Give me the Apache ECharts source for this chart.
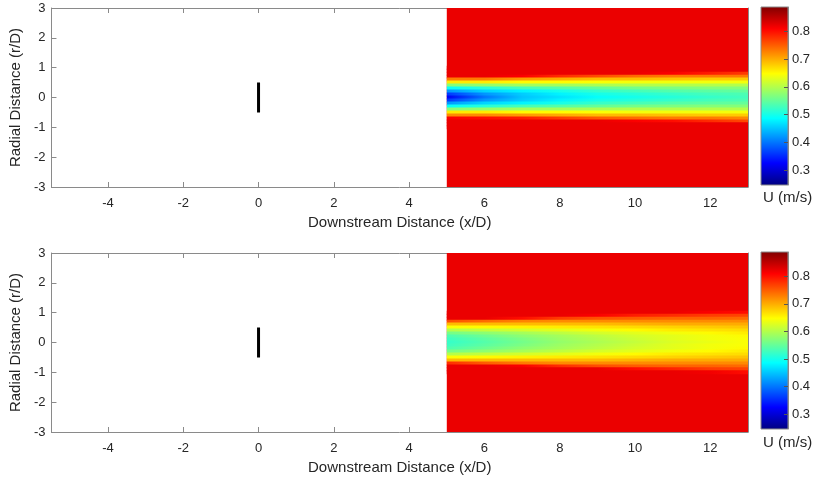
<!DOCTYPE html>
<html>
<head>
<meta charset="utf-8">
<script src="https://cdn.jsdelivr.net/npm/echarts@6/dist/echarts.min.js"></script>
<style>
  html, body { margin: 0; padding: 0; background: #fff; }
  #chart { width: 814px; height: 482px; }
</style>
</head>
<body>
<div id="chart"></div>
<script>
  const xStations = [5, 6, 7, 8, 9, 10, 11, 12, 13];
  const rRows = [1.0, 0.9, 0.8, 0.7, 0.6, 0.5, 0.4, 0.3, 0.2, 0.1, 0.0,
                 -0.1, -0.2, -0.3, -0.4, -0.5, -0.6, -0.7, -0.8, -0.9, -1.0];
  const rStep = 0.1;
  const domainX = [5, 13];
  const domainR = [-3, 3];
  const uFree = 0.82;

  const uTop = [
    [0.82, 0.82, 0.82, 0.82, 0.82, 0.82, 0.82, 0.82, 0.82],
    [0.82, 0.82, 0.82, 0.82, 0.82, 0.82, 0.82, 0.82, 0.82],
    [0.82, 0.82, 0.82, 0.82, 0.82, 0.82, 0.81, 0.79, 0.77],
    [0.82, 0.82, 0.81, 0.78, 0.76, 0.74, 0.73, 0.73, 0.73],
    [0.73, 0.73, 0.71, 0.70, 0.69, 0.69, 0.685, 0.68, 0.68],
    [0.66, 0.66, 0.65, 0.65, 0.645, 0.64, 0.64, 0.64, 0.64],
    [0.57, 0.58, 0.59, 0.59, 0.595, 0.60, 0.60, 0.60, 0.60],
    [0.49, 0.51, 0.53, 0.54, 0.55, 0.56, 0.565, 0.57, 0.57],
    [0.42, 0.46, 0.48, 0.50, 0.52, 0.53, 0.54, 0.545, 0.55],
    [0.36, 0.42, 0.455, 0.48, 0.50, 0.51, 0.52, 0.53, 0.535],
    [0.32, 0.40, 0.45, 0.47, 0.49, 0.50, 0.51, 0.52, 0.53],
    [0.36, 0.42, 0.455, 0.48, 0.50, 0.51, 0.52, 0.53, 0.535],
    [0.42, 0.46, 0.48, 0.50, 0.52, 0.53, 0.54, 0.545, 0.55],
    [0.49, 0.51, 0.53, 0.54, 0.55, 0.56, 0.565, 0.57, 0.57],
    [0.57, 0.58, 0.59, 0.59, 0.595, 0.60, 0.60, 0.60, 0.60],
    [0.66, 0.66, 0.65, 0.65, 0.645, 0.64, 0.64, 0.64, 0.64],
    [0.72, 0.72, 0.71, 0.70, 0.69, 0.69, 0.685, 0.68, 0.68],
    [0.81, 0.80, 0.79, 0.77, 0.75, 0.74, 0.73, 0.73, 0.72],
    [0.82, 0.82, 0.82, 0.82, 0.82, 0.81, 0.80, 0.78, 0.76],
    [0.82, 0.82, 0.82, 0.82, 0.82, 0.82, 0.82, 0.82, 0.82],
    [0.82, 0.82, 0.82, 0.82, 0.82, 0.82, 0.82, 0.82, 0.82]
  ];

  const uBottom = [
    [0.82, 0.82, 0.82, 0.82, 0.82, 0.82, 0.82, 0.81, 0.80],
    [0.82, 0.82, 0.82, 0.82, 0.81, 0.79, 0.78, 0.77, 0.765],
    [0.82, 0.82, 0.80, 0.77, 0.755, 0.75, 0.745, 0.745, 0.74],
    [0.76, 0.74, 0.725, 0.72, 0.72, 0.72, 0.72, 0.72, 0.72],
    [0.69, 0.69, 0.69, 0.69, 0.69, 0.695, 0.70, 0.70, 0.70],
    [0.645, 0.65, 0.655, 0.66, 0.665, 0.67, 0.675, 0.68, 0.685],
    [0.60, 0.61, 0.62, 0.63, 0.64, 0.65, 0.66, 0.665, 0.67],
    [0.56, 0.575, 0.59, 0.605, 0.62, 0.63, 0.64, 0.65, 0.66],
    [0.535, 0.555, 0.575, 0.59, 0.605, 0.62, 0.63, 0.64, 0.65],
    [0.525, 0.545, 0.565, 0.585, 0.60, 0.615, 0.63, 0.64, 0.645],
    [0.52, 0.54, 0.56, 0.58, 0.595, 0.61, 0.625, 0.635, 0.645],
    [0.525, 0.545, 0.565, 0.585, 0.60, 0.615, 0.63, 0.64, 0.645],
    [0.535, 0.555, 0.575, 0.59, 0.605, 0.62, 0.63, 0.64, 0.65],
    [0.56, 0.575, 0.59, 0.605, 0.62, 0.63, 0.64, 0.65, 0.66],
    [0.60, 0.61, 0.62, 0.63, 0.64, 0.65, 0.66, 0.665, 0.67],
    [0.645, 0.65, 0.655, 0.66, 0.665, 0.67, 0.675, 0.68, 0.685],
    [0.69, 0.69, 0.69, 0.69, 0.69, 0.695, 0.70, 0.70, 0.70],
    [0.78, 0.75, 0.73, 0.72, 0.72, 0.72, 0.72, 0.72, 0.72],
    [0.82, 0.82, 0.81, 0.78, 0.76, 0.75, 0.745, 0.745, 0.74],
    [0.82, 0.82, 0.82, 0.82, 0.82, 0.80, 0.785, 0.77, 0.765],
    [0.82, 0.82, 0.82, 0.82, 0.82, 0.82, 0.82, 0.815, 0.80]
  ];

  // turbine rotor disc (x/D, r/D)
  const turbineX = [0, 0];
  const turbineR = [-0.5, 0.5];

  // colour bar limits
  const uMin = 0.246;
  const uMax = 0.888;

  const jetStops = ['#00007f', '#0000ff', '#007fff', '#00ffff', '#7fff7f',
                    '#ffff00', '#ff7f00', '#ff0000', '#7f0000'];

  function hexRgb(h) {
    return [parseInt(h.substr(1, 2), 16), parseInt(h.substr(3, 2), 16), parseInt(h.substr(5, 2), 16)];
  }
  const jetRgb = jetStops.map(hexRgb);

  function jet(u) {
    let t = (u - uMin) / (uMax - uMin);
    t = Math.max(0, Math.min(1, t));
    const pos = t * (jetRgb.length - 1);
    const i = Math.min(Math.floor(pos), jetRgb.length - 2);
    const f = pos - i;
    const a = jetRgb[i], b = jetRgb[i + 1];
    const c = [0, 1, 2].map(k => Math.round(a[k] + (b[k] - a[k]) * f));
    return 'rgb(' + c.join(',') + ')';
  }

  const font = "'Liberation Sans', Arial, Helvetica, sans-serif";
  const txt = '#262626';
  const boxColor = '#8a8a8a';

  let chart = echarts.init(document.getElementById('chart'), null, { renderer: 'canvas' });

  const grids = [
    { left: 49, top: 8, width: 699, height: 179 },
    { left: 49, top: 253, width: 699, height: 179 },
    { left: 761, top: 7, width: 27, height: 178 },
    { left: 761, top: 252, width: 27, height: 177 }
  ];

  function mainX(gi, top) {
    return {
      type: 'value', gridIndex: gi, min: -5.5, max: 13, splitNumber: 9,
      position: top ? 'top' : 'bottom',
      name: top ? '' : 'Downstream Distance (x/D)',
      nameLocation: 'middle', nameGap: 28,
      nameTextStyle: { fontFamily: font, fontSize: 15, color: txt },
      axisLine: { onZero: false, lineStyle: { color: boxColor, width: 1 } },
      axisTick: { inside: true, length: 5, lineStyle: { color: boxColor } },
      axisLabel: { show: !top, showMinLabel: false, showMaxLabel: false, margin: 10,
                   fontFamily: font, fontSize: 13, color: txt },
      splitLine: { show: false }
    };
  }
  function mainY(gi, right) {
    return {
      type: 'value', gridIndex: gi, min: -3, max: 3, interval: 1,
      position: right ? 'right' : 'left',
      name: right ? '' : 'Radial Distance (r/D)',
      nameLocation: 'middle', nameGap: 24,
      nameTextStyle: { fontFamily: font, fontSize: 15, color: txt },
      axisLine: { onZero: false, lineStyle: { color: boxColor, width: 1 } },
      axisTick: { inside: true, length: 5, lineStyle: { color: boxColor } },
      axisLabel: { show: !right, margin: 6, fontFamily: font, fontSize: 13, color: txt },
      splitLine: { show: false }
    };
  }
  function cbX(gi) {
    return { type: 'value', gridIndex: gi, min: 0, max: 1, show: false };
  }
  function cbY(gi) {
    return {
      type: 'value', gridIndex: gi, min: uMin, max: uMax, splitNumber: 6,
      position: 'right', z: 5,
      axisLine: { onZero: false, lineStyle: { color: boxColor, width: 1 } },
      axisTick: { inside: true, length: 4, lineStyle: { color: '#555' } },
      axisLabel: { showMinLabel: false, showMaxLabel: false, margin: 4,
                   fontFamily: font, fontSize: 13, color: txt,
                   formatter: v => v.toFixed(1) },
      splitLine: { show: false }
    };
  }

  function freeSeries(ai) {
    return {
      type: 'custom', xAxisIndex: ai, yAxisIndex: ai, silent: true,
      data: [[domainX[0], domainR[0], domainX[1], domainR[1], uFree]],
      renderItem: function (params, api) {
        const p0 = api.coord([api.value(0), api.value(3)]);
        const p1 = api.coord([api.value(2), api.value(1)]);
        return {
          type: 'rect',
          shape: { x: p0[0], y: p0[1], width: p1[0] - p0[0], height: p1[1] - p0[1] },
          style: { fill: jet(api.value(4)) }
        };
      }
    };
  }

  function wakeSeries(ai, field) {
    const x0 = xStations[0];
    const xN = xStations[xStations.length - 1];
    return {
      type: 'custom', xAxisIndex: ai, yAxisIndex: ai, silent: true,
      data: rRows.map((r, i) => [x0, r, i]),
      renderItem: function (params, api) {
        const r = api.value(1);
        const row = field[api.value(2)];
        const p0 = api.coord([x0, r + rStep / 2]);
        const p1 = api.coord([xN, r - rStep / 2]);
        const stops = xStations.map((x, k) => ({ offset: (x - x0) / (xN - x0), color: jet(row[k]) }));
        return {
          type: 'rect',
          shape: { x: p0[0], y: p0[1] - 0.5, width: p1[0] - p0[0], height: p1[1] - p0[1] + 1 },
          style: { fill: new echarts.graphic.LinearGradient(0, 0, 1, 0, stops) }
        };
      }
    };
  }

  function turbineSeries(ai) {
    return {
      type: 'line', xAxisIndex: ai, yAxisIndex: ai, silent: true,
      data: turbineX.map((x, i) => [x, turbineR[i]]),
      showSymbol: false, symbol: 'none',
      lineStyle: { color: '#000', width: 3, cap: 'butt' }
    };
  }

  function colorbarSeries(ai) {
    return {
      type: 'custom', xAxisIndex: ai, yAxisIndex: ai, silent: true,
      data: [[0, uMin, 1, uMax]],
      renderItem: function (params, api) {
        const p0 = api.coord([api.value(0), api.value(3)]);
        const p1 = api.coord([api.value(2), api.value(1)]);
        const stops = jetStops.map((c, i) => ({ offset: 1 - i / (jetStops.length - 1), color: c }));
        return {
          type: 'rect',
          shape: { x: p0[0], y: p0[1], width: p1[0] - p0[0], height: p1[1] - p0[1] },
          style: { fill: new echarts.graphic.LinearGradient(0, 0, 0, 1, stops.reverse()),
                   stroke: boxColor, lineWidth: 1 }
        };
      }
    };
  }

  const option = {
    animation: false,
    backgroundColor: '#fff',
    grid: grids,
    xAxis: [mainX(0, false), mainX(0, true), mainX(1, false), mainX(1, true), cbX(2), cbX(3)],
    yAxis: [mainY(0, false), mainY(0, true), mainY(1, false), mainY(1, true), cbY(2), cbY(3)],
    graphic: [
      { type: 'text', left: 763, top: 190,
        style: { text: 'U (m/s)', font: '15px ' + font, fill: txt } },
      { type: 'text', left: 763, top: 435,
        style: { text: 'U (m/s)', font: '15px ' + font, fill: txt } }
    ],
    series: [
      freeSeries(0), wakeSeries(0, uTop), turbineSeries(0),
      freeSeries(2), wakeSeries(2, uBottom), turbineSeries(2),
      colorbarSeries(4), colorbarSeries(5)
    ]
  };

  chart.setOption(option);
</script>
</body>
</html>
